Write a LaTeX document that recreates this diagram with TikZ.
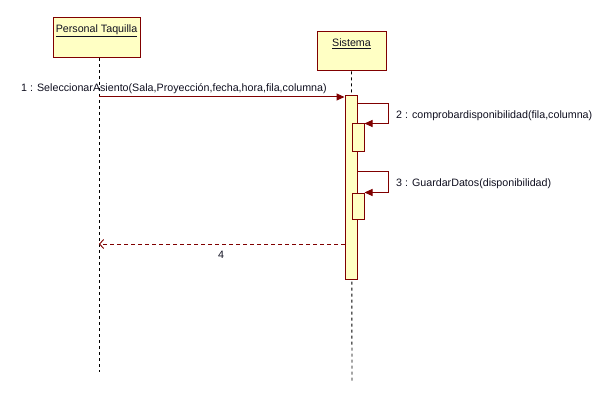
\documentclass[tikz,border=0pt]{standalone}
\usepackage{fontspec}
\setmainfont{Liberation Sans}
\usetikzlibrary{arrows.meta}
\definecolor{umlred}{HTML}{800000}
\definecolor{umlfill}{HTML}{FFFFC4}
\definecolor{umltext}{HTML}{101020}
\tikzset{
  obj/.style={draw=umlred, fill=umlfill, line width=1pt, inner sep=0pt},
  objlabel/.style={anchor=center, inner sep=0pt, text=umltext, font=\fontsize{10.7}{12}\selectfont},
  lifeline/.style={draw=black, line width=0.9pt, dash pattern=on 3pt off 3pt},
  actbox/.style={draw=umlred, fill=umlfill, line width=1pt, minimum width=12pt, inner sep=0pt},
  msg/.style={draw=umlred, line width=1pt, -{Triangle[length=8pt,width=7pt]}},
  retmsg/.style={draw=umlred, line width=0.9pt, dash pattern=on 4pt off 3pt, -{Straight Barb[length=4pt,width=9pt]}},
  msglabel/.style={inner sep=0pt, text=umltext, font=\fontsize{10.7}{12}\selectfont}
}
\begin{document}
\begin{tikzpicture}[x=1pt,y=-1pt]
\useasboundingbox (0,0) rectangle (610,401);
\fill[white] (0,0) rectangle (610,401);
% objects
\node[obj, minimum width=87pt, minimum height=40pt] (pt) at (96.5,38) {};
\node[objlabel] (ptlab) at (96.5,31) {\underline{Personal Taquilla}};
\node[obj, minimum width=69pt, minimum height=39pt] (sis) at (351.5,51.5) {};
\node[objlabel] (sislab) at (351.5,44) {\underline{Sistema}};
% lifelines
\coordinate (pttop) at (99,58);
\coordinate (ptend) at (99,372);
\coordinate (sisend) at (352,381);
\draw[lifeline] (pttop) -- (ptend);
\draw[lifeline] (sis.south) -- (sisend);
% activations
\node[actbox, minimum height=183pt] (A) at (351,187.5) {};
\node[actbox, minimum height=27pt] (B) at (358,137.5) {};
\node[actbox, minimum height=26pt] (C) at (358,206) {};
% message 1
\coordinate (m1) at (99,97);
\draw[msg] (m1) -- (m1 -| A.west);
\node[msglabel] (l1) at (174,89) {1 : SeleccionarAsiento(Sala,Proyección,fecha,hora,fila,columna)};
% message 2
\coordinate (m2) at (357,104);
\draw[msg] (m2) -- ++(31,0) |- (B.north east);
\node[msglabel, anchor=west] (l2) at (396,115.5) {2 : comprobardisponibilidad(fila,columna)};
% message 3
\coordinate (m3) at (357,171);
\draw[msg] (m3) -- ++(31,0) |- (C.north east);
\node[msglabel, anchor=west] (l3) at (396,184) {3 : GuardarDatos(disponibilidad)};
% return 4
\coordinate (m4) at (345,244);
\draw[retmsg] (m4) -- (m4 -| pttop);
\node[msglabel] (l4) at (221,255) {4};
\end{tikzpicture}
\end{document}
